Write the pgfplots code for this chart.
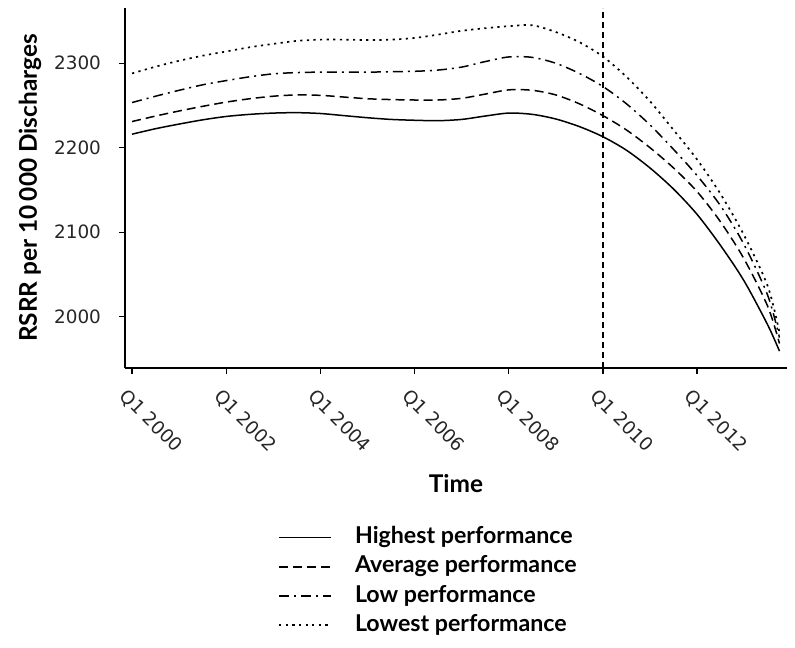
\documentclass[border=0pt]{standalone}
\usepackage{fontspec}
\setmainfont{Lato}
\newfontfamily\tickfont{DejaVu Sans}
\usepackage{pgfplots}
\usepackage{pgfplotstable}
\pgfplotsset{compat=1.18}
\pgfplotstableread{
x y
2000.0 2216
2000.5 2222.5
2001.0 2228
2001.5 2233
2002.0 2237
2002.5 2239.5
2003.0 2241
2003.5 2241.5
2004.0 2240.5
2004.5 2238
2005.0 2235.5
2005.5 2233.5
2006.0 2232.5
2006.5 2232
2007.0 2233.5
2007.5 2237.5
2008.0 2241
2008.5 2239.5
2009.0 2234
2009.5 2225
2010.0 2213
2010.5 2197
2011.0 2176
2011.5 2151
2012.0 2121
2012.5 2084
2013.0 2042
2013.5 1990
2013.75 1959
}\highest
\pgfplotstableread{
x y
2000.0 2231
2000.5 2237.5
2001.0 2243.5
2001.5 2249
2002.0 2254
2002.5 2258
2003.0 2261
2003.5 2262.5
2004.0 2262
2004.5 2260
2005.0 2258
2005.5 2257
2006.0 2256.5
2006.5 2256.5
2007.0 2258.5
2007.5 2263.5
2008.0 2268.5
2008.5 2268
2009.0 2262.5
2009.5 2252
2010.0 2238
2010.5 2221
2011.0 2200
2011.5 2176
2012.0 2148
2012.5 2112
2013.0 2068
2013.5 2012
2013.75 1968
}\average
\pgfplotstableread{
x y
2000.0 2253.5
2000.5 2261
2001.0 2268
2001.5 2274.5
2002.0 2279.5
2002.5 2284
2003.0 2287.5
2003.5 2289
2004.0 2289.5
2004.5 2289.5
2005.0 2289.5
2005.5 2290
2006.0 2290.5
2006.5 2292
2007.0 2295.5
2007.5 2302
2008.0 2307.5
2008.5 2307
2009.0 2300
2009.5 2288
2010.0 2272.5
2010.5 2252
2011.0 2227
2011.5 2198
2012.0 2167
2012.5 2131
2013.0 2085
2013.5 2025
2013.75 1975
}\low
\pgfplotstableread{
x y
2000.0 2288
2000.5 2296
2001.0 2303
2001.5 2309
2002.0 2314
2002.5 2319
2003.0 2323
2003.5 2326.5
2004.0 2328
2004.5 2328
2005.0 2327.5
2005.5 2328
2006.0 2330
2006.5 2334
2007.0 2338.5
2007.5 2341.5
2008.0 2344
2008.5 2345
2009.0 2337
2009.5 2325
2010.0 2308
2010.5 2284
2011.0 2255
2011.5 2221
2012.0 2186
2012.5 2145
2013.0 2096
2013.5 2036
2013.75 1981
}\lowest
\begin{document}
\begin{tikzpicture}
\useasboundingbox (-62.5pt,-139.5pt) rectangle (335pt,184pt);
\begin{axis}[
  at={(0,0)}, anchor=south west,
  scale only axis, width=331pt, height=180pt,
  xmin=1999.85, xmax=2013.91, ymin=1939, ymax=2365.5,
  axis lines=left, axis line style={-, line width=0.7pt, black},
  tick align=outside, major tick length=3pt,
  tick style={line width=0.6pt, black},
  xtick={2000,2002,2004,2006,2008,2010,2012},
  xticklabels={Q1 2000,Q1 2002,Q1 2004,Q1 2006,Q1 2008,Q1 2010,Q1 2012},
  ytick={2000,2100,2200,2300},
  /pgf/number format/assume math mode=true,
  /pgf/number format/1000 sep={},
  tick label style={font=\tickfont\fontsize{9.2}{11}\selectfont, text=black!85},
  xticklabel style={rotate=-45, anchor=north west, yshift=-2.5pt, xshift=0pt},
  yticklabel style={xshift=-5.5pt},
  xlabel={Time},
  ylabel={RSRR per 10\,000 Discharges},
  label style={font=\bfseries\fontsize{12.2}{14}\selectfont},
  xlabel style={at={(axis description cs:0.5,-0.322)}, anchor=center},
  ylabel style={at={(axis description cs:-0.1435,0.5)}, anchor=center},
  legend style={at={(axis description cs:0.231,-0.44)}, anchor=north west,
    draw=none, fill=none, inner sep=0pt,
    font=\bfseries\fontsize{11.6}{13}\selectfont,
    row sep=3.7pt,
    nodes={inner sep=0pt, text height=8.4pt, text depth=2.5pt},
    /tikz/every odd column/.append style={column sep=11.5pt}},
  legend cell align=left,
  legend image code/.code={\draw[#1] (0pt,0pt) -- (26pt,0pt);},
  every axis plot/.append style={line width=0.75pt, black},
]
\addplot[smooth] table[x=x,y=y] {\highest};
\addlegendentry{Highest performance}
\addplot[smooth, dash pattern=on 4.5pt off 2.5pt] table[x=x,y=y] {\average};
\addlegendentry{Average performance}
\addplot[smooth, dash pattern=on 5pt off 2.5pt on 1pt off 2.5pt] table[x=x,y=y] {\low};
\addlegendentry{Low performance}
\addplot[smooth, line width=0.85pt, dash pattern=on 1.1pt off 2.2pt] table[x=x,y=y] {\lowest};
\addlegendentry{Lowest performance}
\addplot[forget plot, line width=0.75pt, dash pattern=on 3.2pt off 1.8pt] coordinates {(2010,1939) (2010,2365.5)};
\end{axis}
\end{tikzpicture}
\end{document}
